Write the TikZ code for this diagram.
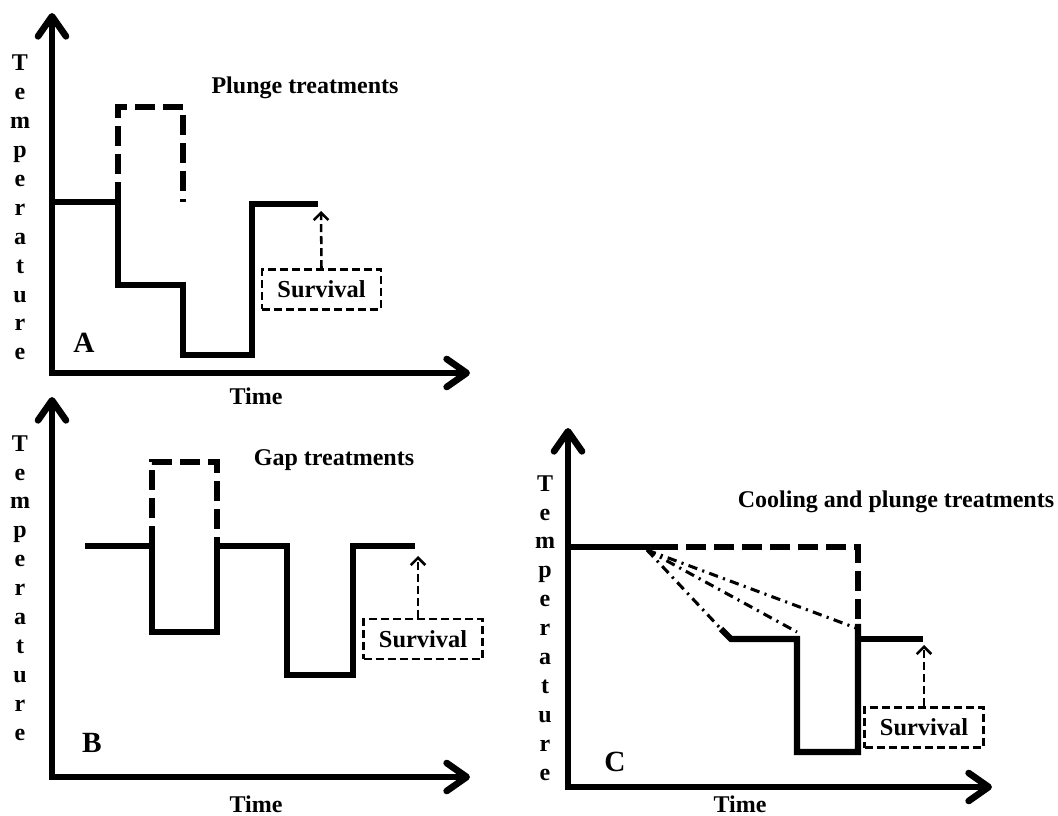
\documentclass[tikz,border=0pt]{standalone}
\usepackage{fontspec}
\setmainfont{Liberation Serif}
\usetikzlibrary{arrows.meta}
\begin{document}
\begin{tikzpicture}[x=0.75pt,y=-0.75pt,
  axis/.style={line width=5pt,line join=miter,
    {Straight Barb[length=15pt,width=21pt,round]}-{Straight Barb[length=15pt,width=21pt,round]}},
  curve/.style={line width=4.6pt,line join=miter},
  hot/.style={line width=4.6pt,line join=miter,dash pattern=on 15pt off 6pt},
  cool/.style={line width=2.3pt,dash pattern=on 7pt off 4pt on 1.6pt off 4pt},
  survbox/.style={draw,line width=1.9pt,dash pattern=on 6pt off 3pt,
    minimum width=89pt,minimum height=30pt,inner sep=0pt,
    font=\bfseries\fontsize{18.3}{21}\selectfont},
  survarrow/.style={line width=1.9pt,dash pattern=on 6pt off 3pt,
    -{Straight Barb[length=5.5pt,width=11pt]}},
  lab/.style={font=\bfseries\fontsize{18}{21.7}\selectfont},
  vlab/.style={lab,align=center},
  big/.style={font=\bfseries\fontsize{22}{24}\selectfont}]
\useasboundingbox (0,0) rectangle (1058,816);

% ---------------- Panel A ----------------
\coordinate (AxE) at (470,373); \coordinate (Ao) at (52,373); \coordinate (AyE) at (52,13);
\draw[axis] (AxE) -- (Ao) -- (AyE);
\node[vlab] (Atemp) at (20,207.5) {T\\e\\m\\p\\e\\r\\a\\t\\u\\r\\e};
\node[lab] (Atime) at (256,396) {Time};
\node[big] (Alab) at (84,343) {A};
\node[lab] (Atitle) at (305,88) {Plunge treatments};
\coordinate (A1) at (52,202); \coordinate (A2) at (118,202); \coordinate (A3) at (118,285);
\coordinate (A4) at (183,285); \coordinate (A5) at (183,355); \coordinate (A6) at (252,355);
\coordinate (A7) at (252,204); \coordinate (A8) at (318,204);
\coordinate (Ah1) at (118,107); \coordinate (Ah2) at (183,107); \coordinate (Ah3) at (183,202);
\draw[curve] (A1) -- (A2) -- (A3) -- (A4) -- (A5) -- (A6) -- (A7) -- (A8);
\draw[hot] (A2) -- (Ah1) -- (Ah2) -- (Ah3);
\node[survbox] (Asurv) at (321.5,289.5) {Survival};
\coordinate (Atip) at (321,211);
\draw[survarrow] (Asurv.north) -- (Atip);

% ---------------- Panel B ----------------
\coordinate (BxE) at (470,777); \coordinate (Bo) at (52,777); \coordinate (ByE) at (52,397);
\draw[axis] (BxE) -- (Bo) -- (ByE);
\node[vlab] (Btemp) at (20,588) {T\\e\\m\\p\\e\\r\\a\\t\\u\\r\\e};
\node[lab] (Btime) at (256,804) {Time};
\node[big] (Blab) at (92,743) {B};
\node[lab] (Btitle) at (334,460) {Gap treatments};
\coordinate (B1) at (85,546); \coordinate (B2) at (152,546); \coordinate (B3) at (152,632);
\coordinate (B4) at (217,632); \coordinate (B5) at (217,546); \coordinate (B6) at (287,546);
\coordinate (B7) at (287,675); \coordinate (B8) at (353,675); \coordinate (B9) at (353,546);
\coordinate (B10) at (415,546);
\coordinate (Bh1) at (152,462); \coordinate (Bh2) at (217,462);
\draw[curve] (B1) -- (B2) -- (B3) -- (B4) -- (B5) -- (B6) -- (B7) -- (B8) -- (B9) -- (B10);
\draw[hot] (B2) -- (Bh1) -- (Bh2) -- (B5);
\node[survbox] (Bsurv) at (423,639) {Survival};
\coordinate (Btip) at (418,556);
\draw[survarrow] (Bsurv.north -| Btip) -- (Btip);

% ---------------- Panel C ----------------
\coordinate (CxE) at (992,787); \coordinate (Co) at (568,787); \coordinate (CyE) at (568,428);
\draw[axis] (CxE) -- (Co) -- (CyE);
\node[vlab] (Ctemp) at (545,628) {T\\e\\m\\p\\e\\r\\a\\t\\u\\r\\e};
\node[lab] (Ctime) at (740,804) {Time};
\node[big] (Clab) at (615,762) {C};
\node[lab] (Ctitle) at (896,502) {Cooling and plunge treatments};
\coordinate (C0) at (568,547); \coordinate (C1) at (658,547); \coordinate (Cs) at (647,550);
\coordinate (Ch1) at (858,547); \coordinate (Ch2) at (858,621);
\coordinate (Cd1) at (721,629); \coordinate (Cd2) at (797,632); \coordinate (Cd3) at (856,628);
\coordinate (C2) at (731,639); \coordinate (C3) at (797,639); \coordinate (C4) at (797,752);
\coordinate (C5) at (858,752); \coordinate (C6) at (858,624);
\coordinate (C7) at (858,639); \coordinate (C8) at (923,639);
\draw[curve] (C0) -- (C1);
\draw[hot] (C1) -- (Ch1) -- (Ch2);
\draw[cool] (Cs) -- (Cd1);
\draw[cool] (Cs) -- (Cd2);
\draw[cool] (Cs) -- (Cd3);
\draw[curve] (Cd1) -- (C2) -- (C3) -- (C4) -- (C5) -- (C6);
\draw[curve] (C7) -- (C8);
\node[survbox] (Csurv) at (924,727.5) {Survival};
\coordinate (Ctip) at (924,645);
\draw[survarrow] (Csurv.north) -- (Ctip);
\end{tikzpicture}
\end{document}
